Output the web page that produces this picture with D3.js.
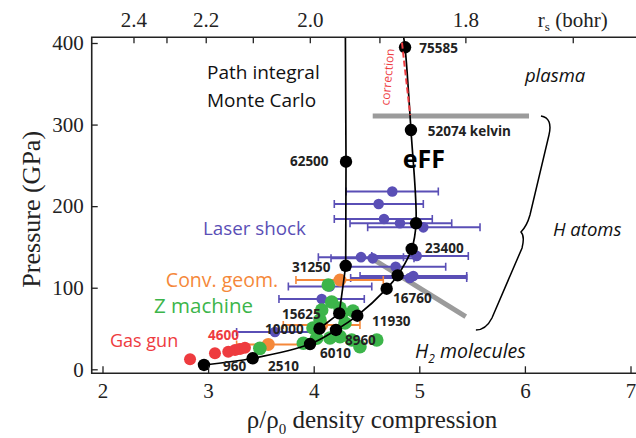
<!DOCTYPE html>
<html><head><meta charset="utf-8">
<script src="https://cdn.jsdelivr.net/npm/d3@7/dist/d3.min.js"></script>
<style>
body{margin:0;background:#fff;}
svg{display:block;}
.serif{font-family:"Liberation Serif","Times New Roman",serif;}
.sans{font-family:"Open Sans","Noto Sans",sans-serif;}
</style></head>
<body><svg id="c" width="636" height="438"></svg>
<script>
// ---------- data ----------
const xTicks = [2, 3, 4, 5, 6, 7];
const yTicks = [0, 100, 200, 300, 400];
const rsTicks = [2.4, 2.3, 2.2, 2.1, 2.0, 1.9, 1.8, 1.7];
const rsLabels = [2.4, 2.2, 2.0, 1.8];
const rs0 = 3.165; // r_s of initial liquid deuterium

// Path integral Monte Carlo
const pimcT   = [62500, 31250, 15625, 10000];
const pimcRho = [4.306, 4.303, 4.242, 4.055];
const pimcP   = [254.5, 126.9, 68.6, 50.0];

// eFF
const effT   = [75585, 52074, null, 23400, null, 16760, 11930, 8960, 6010, 2510, 960];
const effRho = [4.865, 4.921, 4.969, 4.928, 4.795, 4.691, 4.413, 4.211, 3.965, 3.422, 2.961];
const effP   = [394.7, 293.3, 179.0, 147.5, 115.2, 98.8, 65.7, 48.2, 31.0, 13.5, 5.3];

// Laser shock (rho, P, rho low, rho high)
const laserRho = [4.744, 4.615, 4.666, 4.817, 5.038, 4.448, 4.559, 4.975, 4.776, 4.943, 4.910, 4.076, 4.150, 3.633];
const laserP   = [218.0, 202.6, 184.2, 179.0, 174.0, 137.5, 136.0, 139.0, 125.8, 114.4, 112.0, 86.2, 101.5, 45.7];
const laserLo  = [4.306, 4.195, 4.195, 4.344, 4.511, 4.044, 4.164, 4.550, 4.344, 4.439, 4.350, 3.671, 3.760, 3.270];
const laserHi  = [5.180, 5.038, 5.123, 5.307, 5.575, 4.850, 4.950, 5.464, 5.250, 5.449, 5.449, 4.479, 4.550, 4.060];

// Convergent geometry
const convRho = [4.249, 4.076, 3.570];
const convP   = [109.5, 54.3, 30.5];
const convLo  = [3.832, 3.712, 3.270];
const convHi  = [4.659, 4.438, 3.965];

// Z machine
const zRho = [4.138, 4.170, 4.076, 4.249, 4.372, 4.060, 3.993, 4.154, 4.249, 4.360, 4.438, 4.597, 3.902, 4.028, 3.490, 4.268, 4.296];
const zP   = [103.3, 82.5, 72.7, 75.1, 71.5, 60.4, 50.6, 38.4, 40.0, 35.9, 27.7, 35.9, 31.9, 38.0, 25.7, 69.0, 56.8];

// Gas gun
const gasRho = [2.829, 3.065, 3.191, 3.255, 3.302, 3.349];
const gasP   = [12.3, 19.6, 21.6, 23.7, 24.9, 26.5];

// correction (red dashed) and guide lines
const corrRho = [4.836, 4.914];
const corrP   = [400.4, 311.6];
const grayHRho = [4.559, 6.039];
const grayHP   = [310.4, 310.4];
const grayDRho = [4.549, 5.44];
const grayDP   = [136.0, 64.5];

// temperature labels [text, rho, P] (left / baseline)
const tempLabels = [
  ["75585", 5.0, 387.8], ["52074 kelvin", 5.08, 285.9], ["62500", 3.775, 249.2],
  ["23400", 5.054, 142.6], ["31250", 3.794, 119.3], ["16760", 4.751, 81.3],
  ["15625", 3.70, 61.5], ["11930", 4.552, 53.1], ["10000", 3.539, 43.0],
  ["8960", 4.296, 29.8], ["6010", 4.06, 13.9], ["2510", 3.567, -1.5], ["960", 3.141, -2.5]
];

// ---------- setup ----------
const W = 636, H = 438;
const xMin = 1.898, xMax = 7.06, yMin = -4.9, yMax = 407;
const x = d3.scaleLinear().domain([2, 7]).range([102.5, 630.5]);
const y = d3.scaleLinear().domain([0, 400]).range([369.3, 43]);
const comp = rs => Math.pow(rs0 / rs, 3);
const xt = d3.scalePow().exponent(-3).domain([2.4, 1.7]).range([x(comp(2.4)), x(comp(1.7))]);

const BLUE = "#5a4fb6", ORANGE = "#f5883a", GREEN = "#3cb54a", RED = "#ee3b3f", GRAY = "#9b9b9b";

const svg = d3.select("#c");
svg.append("defs").append("clipPath").attr("id", "clip")
  .append("rect").attr("x", x(xMin)).attr("y", y(yMax))
  .attr("width", x(xMax) - x(xMin)).attr("height", y(yMin) - y(yMax));

const plot = svg.append("g").attr("clip-path", "url(#clip)");

// gray guides
const line = d3.line().x(d => x(d[0])).y(d => y(d[1]));
plot.append("path").attr("d", line(d3.zip(grayHRho, grayHP)))
  .attr("stroke", GRAY).attr("stroke-width", 5).attr("fill", "none");
plot.append("path").attr("d", line(d3.zip(grayDRho, grayDP)))
  .attr("stroke", GRAY).attr("stroke-width", 5).attr("fill", "none");

// error bars helper
function errBars(rho, P, lo, hi, color, r, sw) {
  const g = plot.append("g");
  const data = d3.range(rho.length).map(i => ({rho: rho[i], P: P[i], lo: lo[i], hi: hi[i]}));
  g.selectAll("line.h").data(data).join("line").attr("class", "h")
    .attr("x1", d => x(d.lo)).attr("x2", d => x(d.hi))
    .attr("y1", d => y(d.P)).attr("y2", d => y(d.P))
    .attr("stroke", color).attr("stroke-width", sw);
  ["lo", "hi"].forEach(k => {
    g.selectAll("line.c" + k).data(data).join("line").attr("class", "c" + k)
      .attr("x1", d => x(d[k])).attr("x2", d => x(d[k]))
      .attr("y1", d => y(d.P) - 4).attr("y2", d => y(d.P) + 4)
      .attr("stroke", color).attr("stroke-width", 1.6);
  });
  g.selectAll("circle").data(data).join("circle")
    .attr("cx", d => x(d.rho)).attr("cy", d => y(d.P)).attr("r", r).attr("fill", color);
}
errBars(laserRho, laserP, laserLo, laserHi, BLUE, 5.3, 2);
errBars(convRho, convP, convLo, convHi, ORANGE, 6.5, 2);

// Z machine
plot.append("g").selectAll("circle").data(d3.zip(zRho, zP)).join("circle")
  .attr("cx", d => x(d[0])).attr("cy", d => y(d[1])).attr("r", 6.8).attr("fill", GREEN);
// gas gun
plot.append("g").selectAll("circle").data(d3.zip(gasRho, gasP)).join("circle")
  .attr("cx", d => x(d[0])).attr("cy", d => y(d[1])).attr("r", 6).attr("fill", RED);

// PIMC line
const pimcPts = [[pimcRho[0] - 0.006, yMax + 5]].concat(d3.zip(pimcRho, pimcP));
plot.append("path").attr("d", line(pimcPts)).attr("stroke", "#000").attr("stroke-width", 1.7).attr("fill", "none");
// eFF line
const effPts = [[effRho[0] - 0.02, yMax + 5]].concat(d3.zip(effRho, effP));
plot.append("path").attr("d", d3.line().x(d => x(d[0])).y(d => y(d[1])).curve(d3.curveCatmullRom.alpha(0.5))(effPts))
  .attr("stroke", "#000").attr("stroke-width", 1.7).attr("fill", "none");

plot.append("g").selectAll("circle").data(d3.zip(pimcRho, pimcP).concat(d3.zip(effRho, effP))).join("circle")
  .attr("cx", d => x(d[0])).attr("cy", d => y(d[1])).attr("r", 6.2).attr("fill", "#000");

// correction dashed
plot.append("path").attr("d", line(d3.zip(corrRho, corrP)))
  .attr("stroke", RED).attr("stroke-width", 2).attr("stroke-dasharray", "6,3").attr("fill", "none");
svg.append("text").attr("class", "sans")
  .attr("transform", `translate(${x(4.74)},${y(358)}) rotate(-85)`)
  .attr("text-anchor", "middle").attr("font-size", 12).attr("fill", RED).text("correction");

// brace (data coords)
const braceRho = [6.152, 6.266, 6.228, 6.048, 6.019, 5.963, 6.001, 5.973, 5.688, 5.631, 5.536];
const braceP   = [310.5, 308, 287.2, 189.1, 175.6, 168.3, 163.4, 148.7, 62.9, 48.2, 48.2];
const bp = d3.zip(braceRho, braceP).map(d => [x(d[0]), y(d[1])]);
const bpath = `M${bp[0]} Q${bp[1]} ${bp[2]} L${bp[3]} Q${bp[4]} ${bp[5]} Q${bp[6]} ${bp[7]} L${bp[8]} Q${bp[9]} ${bp[10]}`;
svg.append("path").attr("d", bpath).attr("stroke", "#000").attr("stroke-width", 1.5).attr("fill", "none");

// ---------- frame & axes ----------
const fx0 = x(xMin), fx1 = x(xMax) + 2, fy0 = y(yMax), fy1 = y(yMin);
svg.append("path").attr("d", `M${fx1},${fy0}H${fx0}V${fy1}H${fx1}`)
  .attr("stroke", "#222").attr("stroke-width", 1.6).attr("fill", "none");

const ax = svg.append("g").attr("class", "serif").attr("transform", `translate(0,${fy1})`)
  .call(d3.axisBottom(x).tickValues(xTicks).tickSize(-7).tickPadding(10).tickFormat(d3.format("d")));
const ay = svg.append("g").attr("class", "serif").attr("transform", `translate(${fx0},0)`)
  .call(d3.axisLeft(y).tickValues(yTicks).tickSize(-6).tickPadding(8).tickFormat(d3.format("d")));
const at = svg.append("g").attr("class", "serif").attr("transform", `translate(0,${fy0})`)
  .call(d3.axisTop(xt).tickValues(rsTicks).tickSize(-6).tickPadding(10)
    .tickFormat(d => rsLabels.includes(d) ? d3.format(".1f")(d) : ""));
[ax, ay, at].forEach(g => {
  g.select(".domain").remove();
  g.selectAll("line").attr("stroke", "#222").attr("stroke-width", 1.3);
  g.selectAll("text").attr("font-size", 21).attr("fill", "#222")
    .attr("font-family", '"Liberation Serif","Times New Roman",serif');
});

// r_s label
const rsT = svg.append("text").attr("class", "serif").attr("x", xt(1.7)).attr("y", fy0 - 10)
  .attr("text-anchor", "middle").attr("font-size", 21).attr("fill", "#222");
rsT.append("tspan").text("r");
rsT.append("tspan").attr("font-size", 13).attr("dy", 4).text("s");
rsT.append("tspan").attr("dy", -4).text(" (bohr)");

// axis titles
svg.append("text").attr("class", "serif")
  .attr("transform", `translate(40,${(fy0 + fy1) / 2 + 4}) rotate(-90)`)
  .attr("text-anchor", "middle").attr("font-size", 26).attr("fill", "#222").text("Pressure (GPa)");
const xtl = svg.append("text").attr("class", "serif").attr("x", 372).attr("y", 428)
  .attr("text-anchor", "middle").attr("font-size", 25).attr("fill", "#222");
xtl.append("tspan").text("ρ/ρ");
xtl.append("tspan").attr("font-size", 15).attr("dy", 6).text("0");
xtl.append("tspan").attr("dy", -6).text(" density compression");

// ---------- annotations ----------
function ann(t, rho, P, opts) {
  const e = svg.append("text").attr("class", "sans").attr("x", x(rho)).attr("y", y(P)).text(t);
  Object.entries(opts).forEach(([k, v]) => e.attr(k, v));
  return e;
}
ann("Path integral", 2.99, 355.9, {"font-size": 19, fill: "#111"});
ann("Monte Carlo", 2.99, 321.6, {"font-size": 19, fill: "#111"});
ann("plasma", 6.0, 352, {"font-size": 18.5, "font-style": "italic", fill: "#111"});
ann("eFF", 4.844, 246.7, {"font-size": 25, "font-weight": "bold", fill: "#000"});
ann("Laser shock", 2.952, 164.6, {"font-size": 18.8, fill: BLUE});
ann("H atoms", 6.266, 163.4, {"font-size": 18.5, "font-style": "italic", fill: "#111"});
ann("Conv. geom.", 2.60, 100.9, {"font-size": 19.5, fill: ORANGE});
ann("Z machine", 2.488, 69, {"font-size": 20.5, fill: GREEN});
ann("Gas gun", 2.071, 27.3, {"font-size": 18, fill: RED});
const h2 = ann("H", 4.96, 13.9, {"font-size": 19.5, "font-style": "italic", fill: "#111"});
h2.text(null); h2.append("tspan").text("H");
h2.append("tspan").attr("font-size", 12).attr("dy", 5).text("2");
h2.append("tspan").attr("dy", -5).text(" molecules");

tempLabels.forEach(d => ann(d[0], d[1], d[2], {"font-size": 13.5, "font-weight": "bold", fill: "#222"}));
ann("4600", 2.999, 35.9, {"font-size": 13.5, "font-weight": "bold", fill: RED});
</script></body></html>
